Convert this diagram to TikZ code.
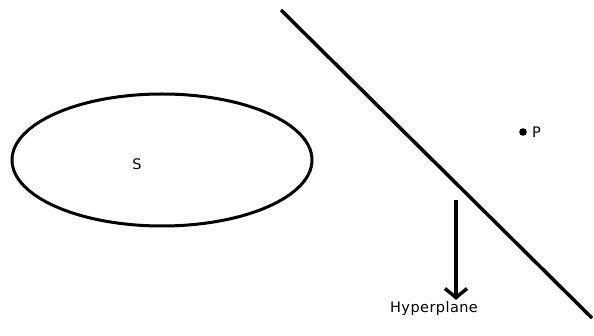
\documentclass[tikz,border=0pt]{standalone}
\usepackage{fontspec}
\setmainfont{DejaVu Sans}[LetterSpace=3]
\usetikzlibrary{arrows.meta}

\begin{document}
\begin{tikzpicture}[x=1pt, y=-1pt]
  \useasboundingbox (0, 0) rectangle (594, 336);

  % the set S
  \draw[line width=3pt] (162, 160) ellipse [x radius=150, y radius=66];
  \node[font=\fontsize{14.5}{16}\selectfont] (setlabel) at (137, 164) {S};

  % separating line
  \coordinate (lineA) at (281, 10);
  \coordinate (lineB) at (592, 318);
  \draw[line width=3.5pt] (lineA) -- (lineB);

  % the point P
  \fill (523, 132) circle [radius=3.8] coordinate (pt);
  \node[font=\fontsize{14.5}{16}\selectfont, anchor=west, inner sep=1pt] (ptlabel) at (531, 132) {P};

  % label with arrow
  \node[font=\fontsize{14.5}{16}\selectfont, inner sep=1pt] (hyp) at (434, 308) {Hyperplane};
  \coordinate (arrtop) at (456, 200);
  \draw[line width=3.5pt, -{Straight Barb[length=9pt, width=22pt]}] (arrtop) -- (arrtop |- hyp.north);
\end{tikzpicture}
\end{document}
